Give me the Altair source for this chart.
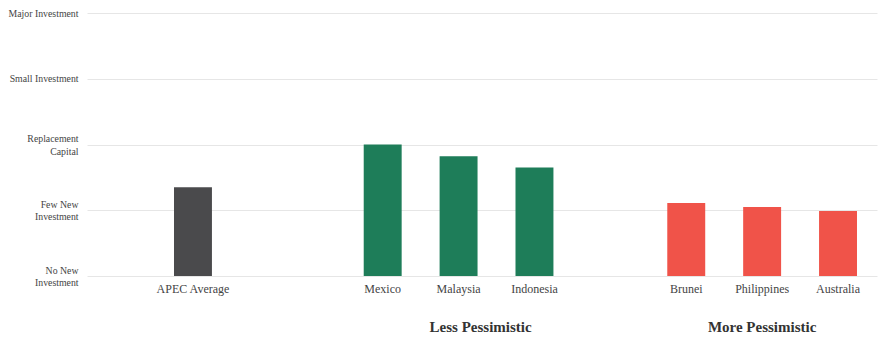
import altair as alt
import pandas as pd

# ---- data ----
categories = ["APEC Average", "Mexico", "Malaysia", "Indonesia", "Brunei", "Philippines", "Australia"]
values = [1.35, 2.0, 1.82, 1.65, 1.11, 1.05, 0.99]
groups = ["Average", "Less Pessimistic", "Less Pessimistic", "Less Pessimistic",
          "More Pessimistic", "More Pessimistic", "More Pessimistic"]
group_names = ["Average", "Less Pessimistic", "More Pessimistic"]
group_colors = ["#4a4a4c", "#1e7d59", "#f05349"]
y_levels = [0, 1, 2, 3, 4]
y_labels = [["No New", "Investment"], ["Few New", "Investment"], ["Replacement", "Capital"],
            "Small Investment", "Major Investment"]
group_label_names = ["Less Pessimistic", "More Pessimistic"]
group_label_anchor = ["Malaysia", "Philippines"]

# x slots (blank spacers keep the gaps between groups)
slots = ["_a", "_b", "APEC Average", "_c", "_d", "_e", "_f", "Mexico", "_g", "Malaysia",
         "_h", "Indonesia", "_i", "_j", "_k", "Brunei", "_l", "Philippines", "_m", "Australia"]

df = pd.DataFrame({"category": categories, "value": values, "group": groups})
lab = pd.DataFrame({"label": group_label_names, "anchor": group_label_anchor})

def to_js(v):
    if isinstance(v, list):
        return "[" + ",".join("'" + s + "'" for s in v) + "]"
    return "'" + v + "'"

expr = to_js(y_labels[-1])
for lv, lb in reversed(list(zip(y_levels[:-1], y_labels[:-1]))):
    expr = f"datum.value == {lv} ? {to_js(lb)} : ({expr})"
multi_levels = [lv for lv, lb in zip(y_levels, y_labels) if isinstance(lb, list)]
multi_test = " || ".join(f"datum.value == {lv}" for lv in multi_levels)

FONT = "Liberation Serif"
W, H = 790, 263

xscale = alt.Scale(domain=slots, paddingInner=0, paddingOuter=0.41, align=0.357)

bars = alt.Chart(df).mark_bar().encode(
    x=alt.X("category:N", scale=xscale, sort=slots,
            axis=alt.Axis(title=None, labelAngle=0, ticks=False, domain=False,
                          labelFont=FONT, labelFontSize=12, labelColor="#444444",
                          labelPadding=7,
                          labelExpr="test(/^_/, datum.label) ? '' : datum.label")),
    y=alt.Y("value:Q", scale=alt.Scale(domain=[0, 4], nice=False),
            axis=alt.Axis(title=None, values=y_levels, labelExpr=expr, grid=True,
                          gridColor="#e6e6e6", ticks=False, domain=False,
                          labelFont=FONT, labelFontSize=9.8, labelColor="#444444",
                          labelPadding=9, labelLineHeight=12.5,
                          labelOffset={"condition": {"test": multi_test, "value": -6}, "value": 0})),
    color=alt.Color("group:N", scale=alt.Scale(domain=group_names, range=group_colors), legend=None),
)

less = alt.Chart(lab[lab.label == "Less Pessimistic"]).mark_text(
    font=FONT, fontSize=15, fontWeight="bold", color="#333333", baseline="middle", dx=22
).encode(x=alt.X("anchor:N", scale=xscale, sort=slots), y=alt.value(H + 51), text="label:N")

more = alt.Chart(lab[lab.label == "More Pessimistic"]).mark_text(
    font=FONT, fontSize=15, fontWeight="bold", color="#333333", baseline="middle", dx=0
).encode(x=alt.X("anchor:N", scale=xscale, sort=slots), y=alt.value(H + 51), text="label:N")

chart = alt.layer(bars, less, more).properties(
    width=W, height=H,
    autosize=alt.AutoSizeParams(type="none"),
    padding={"left": 79, "top": 5, "right": 5, "bottom": 61},
).configure_view(stroke=None)

chart.save("out.html", embed_options={"renderer": "svg", "actions": False})
